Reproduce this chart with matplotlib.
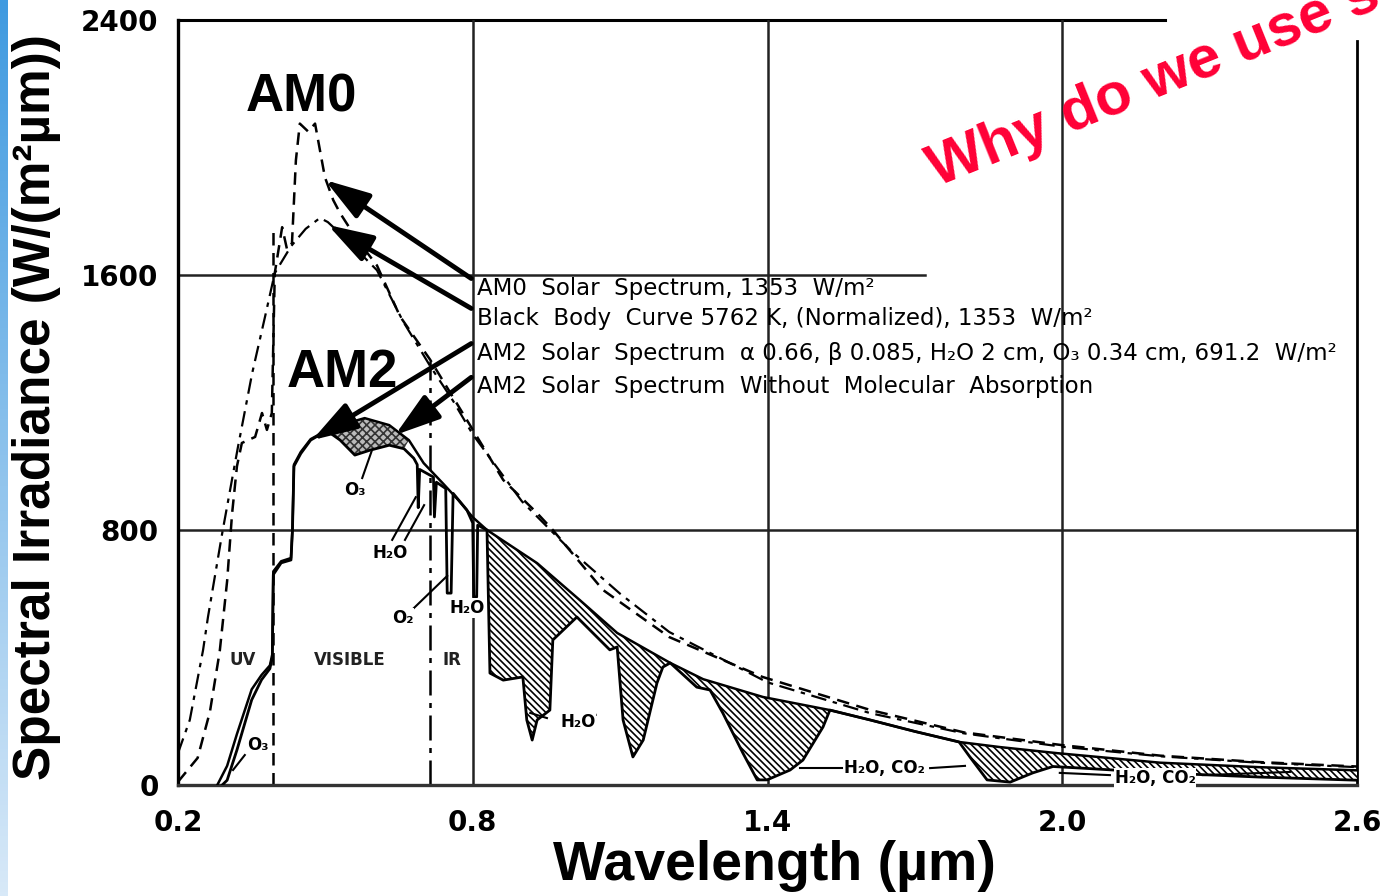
import numpy as np
import matplotlib
matplotlib.use("Agg")
import matplotlib.pyplot as plt
from matplotlib import font_manager
from matplotlib.colors import LinearSegmentedColormap

# ---- data (wavelength in um, irradiance in W/(m2 um)) ----
am0_wl = [0.20, 0.24, 0.265, 0.285, 0.30, 0.31, 0.32, 0.33, 0.357, 0.371, 0.381, 0.391,
          0.397, 0.412, 0.422, 0.432, 0.44, 0.448, 0.465, 0.479, 0.499, 0.516, 0.53,
          0.565, 0.605, 0.652, 0.713, 0.794, 0.862, 0.931, 0.963, 1.065, 1.20, 1.39,
          1.61, 1.80, 2.00, 2.20, 2.40, 2.60]
am0_irr = [10, 85, 230, 420, 640, 850, 1000, 1073, 1092, 1167, 1114, 1167,
           1606, 1750, 1680, 1700, 1960, 2075, 2050, 2075, 1907, 1835, 1794,
           1710, 1630, 1470, 1335, 1130, 957, 853, 800, 612, 464, 339,
           235, 165, 125, 92, 72, 58]

bb_wl = [0.20, 0.224, 0.251, 0.261, 0.29, 0.322, 0.351, 0.377, 0.397, 0.43, 0.46,
         0.489, 0.505, 0.544, 0.605, 0.658, 0.713, 0.76, 0.80, 0.90, 1.00, 1.10,
         1.20, 1.40, 1.61, 1.80, 2.00, 2.20, 2.40, 2.60]
bb_irr = [100, 204, 423, 527, 790, 1060, 1292, 1468, 1606, 1690, 1745,
          1779, 1766, 1710, 1615, 1455, 1315, 1205, 1100, 890, 735, 600,
          480, 322, 225, 162, 120, 90, 70, 56]

# AM2 without molecular absorption (upper envelope)
env_wl = [0.28, 0.30, 0.32, 0.35, 0.37, 0.387, 0.392, 0.394, 0.41, 0.43, 0.433, 0.436,
          0.45, 0.47, 0.49, 0.51, 0.53, 0.58, 0.63, 0.67, 0.70, 0.74, 0.77, 0.80,
          0.829, 0.931, 1.018, 1.094, 1.202, 1.269, 1.391, 1.527, 1.609, 1.70, 1.79,
          1.873, 1.989, 2.199, 2.40, 2.60]
env_irr = [0, 60, 160, 300, 345, 375, 410, 670, 702, 712, 805, 1005,
           1045, 1085, 1102, 1106, 1129, 1151, 1129, 1082, 1010, 945, 895, 840,
           800, 696, 580, 477, 383, 332, 276, 235, 204, 168, 135,
           119, 100, 70, 56, 46]

# AM2 actual spectrum
am2_wl = [0.29, 0.30, 0.32, 0.35, 0.37, 0.387, 0.392, 0.394, 0.41, 0.43, 0.433, 0.436,
          0.45, 0.47, 0.49, 0.51, 0.53, 0.56, 0.59, 0.63, 0.66, 0.68, 0.687, 0.689,
          0.692, 0.72, 0.722, 0.726, 0.745, 0.748, 0.756, 0.76, 0.788, 0.80, 0.802,
          0.808, 0.81, 0.829, 0.835, 0.862, 0.902, 0.910, 0.921, 0.931, 0.957, 0.963,
          0.978, 1.012, 1.079, 1.094, 1.106, 1.126, 1.147, 1.175, 1.187, 1.202, 1.256,
          1.283, 1.309, 1.35, 1.379, 1.399, 1.446, 1.472, 1.513, 1.527, 1.609, 1.70,
          1.79, 1.812, 1.847, 1.894, 1.94, 1.981, 2.05, 2.20, 2.40, 2.60]
am2_irr = [0, 15, 110, 267, 330, 365, 400, 660, 697, 706, 800, 1000,
           1040, 1082, 1100, 1104, 1082, 1035, 1050, 1066, 1055, 1025, 1005, 870,
           990, 966, 841, 950, 930, 602, 602, 915, 863, 822, 590,
           590, 815, 800, 351, 329, 339, 204, 141, 204, 235, 455,
           477, 527, 424, 433, 204, 88, 141, 320, 370, 383, 307,
           298, 226, 100, 16, 16, 47, 78, 182, 235, 204, 168,
           135, 88, 16, 9, 38, 58, 52, 38, 25, 15]

xticks = [0.2, 0.8, 1.4, 2.0, 2.6]
yticks = [0, 800, 1600, 2400]

legend_lines = [
    "AM0  Solar  Spectrum, 1353  W/m²",
    "Black  Body  Curve 5762 K, (Normalized), 1353  W/m²",
    "AM2  Solar  Spectrum  α 0.66, β 0.085, H₂O 2 cm, O₃ 0.34 cm, 691.2  W/m²",
    "AM2  Solar  Spectrum  Without  Molecular  Absorption",
]
legend_y = [1559, 1465, 1355, 1249]
arrow_tips = [(0.499, 1898), (0.505, 1757), (0.473, 1082), (0.642, 1098)]

names = {f.name for f in font_manager.fontManager.ttflist}
arial = "Liberation Sans" if "Liberation Sans" in names else "DejaVu Sans"

fig = plt.figure(figsize=(13.83, 8.96), dpi=100)
ax = fig.add_axes([178 / 1383, 111 / 896, 1179 / 1383, 765 / 896])
ax.set_xlim(0.2, 2.6)
ax.set_ylim(0, 2400)

# frame and grid
for s in ["top", "right"]:
    ax.spines[s].set_visible(False)
ax.spines["left"].set_linewidth(2.4)
ax.spines["bottom"].set_linewidth(2.4)
ax.spines["bottom"].set_color("#333333")
ax.plot([0.2, 2.21], [2400, 2400], color="k", lw=2.2, clip_on=False, zorder=1)
ax.plot([2.6, 2.6], [0, 2335], color="k", lw=2.0, clip_on=False, zorder=1)
for x in [0.8, 1.4, 2.0]:
    ax.plot([x, x], [0, 2400], color="#222222", lw=1.8, zorder=1)
ax.plot([0.2, 2.6], [800, 800], color="#222222", lw=1.8, zorder=1)
ax.plot([0.2, 1.72], [1600, 1600], color="#222222", lw=1.8, zorder=1)

# UV / VISIBLE / IR boundaries
ax.plot([0.393, 0.393], [0, 1750], color="k", lw=1.8, ls=(0, (5, 3)), zorder=2)
ax.plot([0.713, 0.713], [0, 1330], color="k", lw=1.8, ls=(0, (10, 3, 2, 3)), zorder=2)

# absorption regions
env_wl_a, env_irr_a = np.array(env_wl), np.array(env_irr)
am2_wl_a, am2_irr_a = np.array(am2_wl), np.array(am2_irr)


def band(lo, hi):
    me = (env_wl_a >= lo) & (env_wl_a <= hi)
    ma = (am2_wl_a >= lo) & (am2_wl_a <= hi)
    xs = np.concatenate([env_wl_a[me], am2_wl_a[ma][::-1]])
    ys = np.concatenate([env_irr_a[me], am2_irr_a[ma][::-1]])
    return xs, ys


plt.rcParams["hatch.linewidth"] = 1.2
xs, ys = band(0.51, 0.67)
ax.fill(xs, ys, facecolor="#bbbbbb", edgecolor="#333333", hatch="xxxx", lw=0, zorder=2)
for lo, hi in [(0.829, 1.527), (1.79, 2.6)]:
    xs, ys = band(lo, hi)
    ax.fill(xs, ys, facecolor="white", edgecolor="k", hatch="\\\\\\\\\\", lw=0, zorder=2)

# curves
ax.plot(am0_wl, am0_irr, color="k", lw=1.8, ls=(0, (5, 3)), zorder=3)
ax.plot(bb_wl, bb_irr, color="k", lw=1.6, ls=(0, (7, 3, 2, 3)), zorder=3)
ax.plot(env_wl, env_irr, color="k", lw=1.8, zorder=3)
ax.plot(am2_wl, am2_irr, color="k", lw=2.0, zorder=3)

# legend text with arrows
for txt, yy, tip in zip(legend_lines, legend_y, arrow_tips):
    ax.text(0.809, yy, txt, fontsize=16.5, va="center", ha="left", family="DejaVu Sans", zorder=5)
    ax.annotate("", xy=tip, xytext=(0.797, yy + 30),
                arrowprops=dict(arrowstyle="-|>,head_length=1.1,head_width=0.35",
                                lw=3.5, color="k", shrinkA=0, shrinkB=0,
                                mutation_scale=25), zorder=4)

ax.text(0.452, 2158, "AM0", fontsize=38, fontweight="bold", family=arial, ha="center", va="center")
ax.text(0.534, 1292, "AM2", fontsize=38, fontweight="bold", family=arial, ha="center", va="center")

for txt, x in [("UV", 0.332), ("VISIBLE", 0.55), ("IR", 0.758)]:
    ax.text(x, 392, txt, fontsize=12, fontweight="bold", ha="center", va="center", color="#222222")

small_labels = [("O₃", 0.560, 925), ("H₂O", 0.632, 728), ("O₂", 0.658, 524),
                ("H₂O", 0.788, 555), ("H₂O", 1.014, 198), ("O₃", 0.363, 125),
                ("H₂O, CO₂", 1.639, 53), ("H₂O, CO₂", 2.189, 22)]
for txt, x, y in small_labels:
    ax.text(x, y, txt, fontsize=12, fontweight="bold", ha="center", va="center", zorder=5,
            bbox=dict(facecolor="white", edgecolor="none", pad=0.5))

leaders = [((0.575, 963), (0.595, 1051)), ((0.636, 769), (0.684, 903)),
           ((0.662, 769), (0.701, 878)), ((0.672, 543), (0.748, 656)),
           ((0.951, 210), (0.917, 226)), ((0.996, 198), (1.05, 220)),
           ((0.336, 94), (0.312, 47)), ((1.466, 53), (1.552, 53)),
           ((1.731, 53), (1.802, 60)), ((1.995, 38), (2.097, 31)),
           ((2.286, 31), (2.464, 41))]
for (x0, y0), (x1, y1) in leaders:
    ax.plot([x0, x1], [y0, y1], color="k", lw=1.5, zorder=4)

# axes text
ax.set_xticks(xticks)
ax.set_xticklabels([f"{v:.1f}" for v in xticks])
ax.set_yticks(yticks)
ax.set_yticklabels([str(v) for v in yticks])
ax.tick_params(length=0, labelsize=20, pad=14)
ax.tick_params(axis="x", pad=17)
for lab in ax.get_xticklabels() + ax.get_yticklabels():
    lab.set_fontweight("bold")

ax.set_xlabel("Wavelength (µm)", fontsize=40, fontweight="bold", family=arial)
ax.xaxis.set_label_coords(0.506, -0.072)
ax.set_ylabel("Spectral Irradiance (W/(m²µm))", fontsize=37, fontweight="bold", family=arial)
ax.yaxis.set_label_coords(-0.099, 0.494)

# red overlay text
fig.text(937 / 1383, 1 - 187 / 896, "Why do we use silicon?", fontsize=43, fontweight="bold",
         family=arial, color="#ff0036", rotation=22, rotation_mode="anchor",
         ha="left", va="baseline")

# blue stripe at left edge
sax = fig.add_axes([0, 0, 8 / 1383, 1])
cmap = LinearSegmentedColormap.from_list("stripe", ["#3f9ae0", "#d8e9f8"])
sax.imshow(np.linspace(0, 1, 256).reshape(-1, 1), aspect="auto", cmap=cmap)
sax.axis("off")

fig.savefig("out.png", dpi=100)
